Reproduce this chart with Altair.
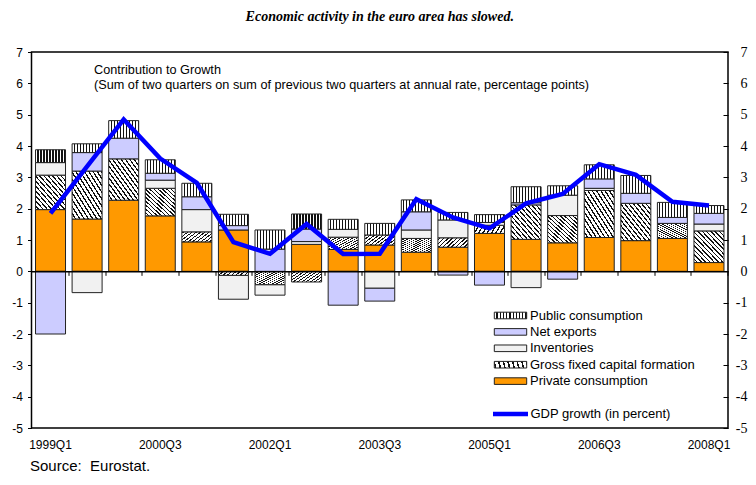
import altair as alt
import pandas as pd

# ---------------- data ----------------
quarters = ["1999Q1", "1999Q3", "2000Q1", "2000Q3", "2001Q1", "2001Q3", "2002Q1",
            "2002Q3", "2003Q1", "2003Q3", "2004Q1", "2004Q3", "2005Q1", "2005Q3",
            "2006Q1", "2006Q3", "2007Q1", "2007Q3", "2008Q1"]
tick_labels = ["1999Q1", "2000Q3", "2002Q1", "2003Q3", "2005Q1", "2006Q3", "2008Q1"]

private_consumption = [1.97, 1.67, 2.27, 1.77, 0.94, 1.32, 0.00, 0.86, 0.70, 0.84,
                       0.61, 0.77, 1.21, 1.02, 0.91, 1.08, 0.98, 1.05, 0.28]
gross_fixed_capital = [1.10, 1.53, 1.32, 0.88, 0.32, -0.13, -0.43, -0.34, 0.39, 0.32,
                       0.44, 0.30, 0.26, 1.10, 0.87, 1.50, 1.19, 0.48, 1.01]
inventories = [0.40, -0.68, 0.00, 0.26, 0.71, -0.76, -0.33, 0.09, 0.25, -0.54,
               0.27, 0.57, 0.09, -0.52, 0.65, 0.07, 0.00, 0.00, 0.22]
net_exports = [-2.00, 0.59, 0.66, 0.22, 0.41, 0.14, 0.71, 0.40, -1.08, -0.41,
               0.58, -0.12, -0.44, 0.07, -0.25, 0.30, 0.32, 0.19, 0.34]
public_consumption = [0.41, 0.28, 0.56, 0.43, 0.43, 0.36, 0.61, 0.48, 0.32, 0.37,
                      0.38, 0.24, 0.25, 0.51, 0.30, 0.45, 0.57, 0.48, 0.25]
gdp_growth = [1.85, 3.35, 4.85, 3.60, 2.82, 0.93, 0.56, 1.51, 0.55, 0.56,
              2.30, 1.72, 1.37, 2.17, 2.47, 3.42, 3.08, 2.22, 2.10]

stack_series = ["Private consumption", "Gross fixed capital formation",
                "Inventories", "Net exports", "Public consumption"]
legend_series = ["Public consumption", "Net exports", "Inventories",
                 "Gross fixed capital formation", "Private consumption"]
gdp_label = "GDP growth (in percent)"

rows = []
for i, q in enumerate(quarters):
    for k, vals in enumerate([private_consumption, gross_fixed_capital, inventories,
                              net_exports, public_consumption]):
        if vals[i] != 0:
            rows.append({"quarter": q, "series": stack_series[k], "value": vals[i], "order": k})
bars_df = pd.DataFrame(rows)
line_df = pd.DataFrame({"quarter": quarters, "gdp": gdp_growth, "label": gdp_label})


# ---------------- pattern fills (striped linear gradients) ----------------
def stripes(x1, y1, x2, y2, n, dark_frac, light="#ffffff", dark="#111111"):
    stops = []
    for i in range(n):
        a = i / n
        b = (i + 1 - dark_frac) / n
        c = (i + 1) / n
        stops += [(a, light), (b, light), (b, dark), (c, dark)]
    s = ", ".join("{offset: %.4f, color: '%s'}" % (o, col) for o, col in stops)
    return "{gradient: 'linear', x1: %s, y1: %s, x2: %s, y2: %s, stops: [%s]}" % (x1, y1, x2, y2, s)


public_fill = {"expr": stripes(0, 0, 1, 0, 10, 0.38)}
gfcf_fill = {"expr": stripes(0, 1, 1, 0, 14, 0.35)}
fill_range = [public_fill, "#ccccff", "#f1f1f1", gfcf_fill, "#ff9900"]

W, H = 696.5, 376
SANS = "Liberation Sans"
SERIF = "Liberation Serif"
HYPHEN_LABEL = "'' + datum.value"

bars = alt.Chart(bars_df).mark_bar(stroke="#222222", strokeWidth=1).encode(
    x=alt.X("quarter:N", sort=quarters,
            scale=alt.Scale(domain=quarters, paddingInner=0.18, paddingOuter=0.11),
            axis=alt.Axis(orient="bottom", values=tick_labels, title=None, ticks=False,
                          tickSize=0, domain=False, labelAngle=0, labelFontSize=12,
                          labelFont=SANS, labelPadding=11, labelColor="black", grid=False)),
    y=alt.Y("value:Q", stack="zero",
            scale=alt.Scale(domain=[-5, 7], nice=False, zero=False),
            axis=alt.Axis(orient="left", values=list(range(-5, 8)), title=None, domain=False,
                          grid=False, tickSize=4, tickColor="black", tickWidth=1,
                          labelExpr=HYPHEN_LABEL,
                          labelFont=SANS, labelFontSize=12, labelPadding=5,
                          labelColor="black", minExtent=23.5, maxExtent=23.5)),
    color=alt.Color("series:N",
                    scale=alt.Scale(domain=legend_series, range=fill_range),
                    legend=alt.Legend(orient="none", legendX=472.5, legendY=257, title=None,
                                      padding=0, symbolType="M-2.7,-0.55H2.7V0.55H-2.7Z",
                                      symbolSize=144, symbolStrokeColor="#222222",
                                      symbolStrokeWidth=1, labelFont=SANS, labelFontSize=13,
                                      labelColor="black", labelOffset=13, rowPadding=2.4,
                                      labelLimit=300)),
    order=alt.Order("order:Q", sort="ascending"),
)

line = alt.Chart(line_df).mark_line(strokeWidth=4.5, strokeJoin="miter").encode(
    x=alt.X("quarter:N", sort=quarters,
            axis=alt.Axis(orient="bottom", offset=-H * 5 / 12, labels=False, title=None,
                          ticks=True, tickSize=4, tickColor="black", tickWidth=1,
                          bandPosition=1, tickOffset=3.3, domain=True, domainColor="black",
                          domainWidth=1.5, grid=False, zindex=1)),
    y=alt.Y("gdp:Q", scale=alt.Scale(domain=[-5, 7], nice=False, zero=False),
            axis=alt.Axis(orient="right", offset=-5, values=list(range(-5, 8)), title=None,
                          domain=False, grid=False, tickSize=5, tickColor="black",
                          tickWidth=1, labelExpr=HYPHEN_LABEL, labelAlign="right",
                          labelFont=SERIF, labelFontSize=14, labelPadding=19,
                          labelColor="black")),
    stroke=alt.Stroke("label:N", scale=alt.Scale(domain=[gdp_label], range=["#0000ff"]),
                      legend=alt.Legend(orient="none", legendX=459, legendY=342, title=None,
                                        padding=0, symbolType="stroke", symbolSize=1225,
                                        symbolStrokeWidth=4.5, labelFont=SANS,
                                        labelFontSize=13, labelColor="black", labelOffset=0,
                                        labelLimit=300)),
)

note1 = alt.Chart(pd.DataFrame({"t": ["Contribution to Growth"]})).mark_text(
    align="left", baseline="middle", font=SANS, fontSize=12.7, color="black"
).encode(x=alt.value(62.5), y=alt.value(18), text="t:N")

note2 = alt.Chart(pd.DataFrame({"t": ["(Sum of two quarters on sum of previous two quarters at annual rate, percentage points)"]})).mark_text(
    align="left", baseline="middle", font=SANS, fontSize=12.7, color="black"
).encode(x=alt.value(62.5), y=alt.value(33), text="t:N")

source = alt.Chart(pd.DataFrame({"t": ["Source:\u00a0 Eurostat."]})).mark_text(
    align="left", baseline="middle", font=SANS, fontSize=15, color="black"
).encode(x=alt.value(-1.5), y=alt.value(414), text="t:N")

chart = alt.layer(bars, line, note1, note2, source).resolve_axis(
    x="independent", y="independent"
).properties(
    width=W, height=H,
    autosize=alt.AutoSizeParams(type="none"),
    padding={"left": 23.5, "top": 44, "right": 20, "bottom": 45},
    title=alt.TitleParams(text="Economic activity in the euro area has slowed.",
                          font=SERIF, fontSize=14, fontStyle="italic", fontWeight="bold",
                          anchor="middle", frame="group", offset=21, color="black"),
).configure_view(stroke="black", strokeWidth=1.5)

chart.save("out.html", embed_options={"renderer": "svg", "actions": False})
